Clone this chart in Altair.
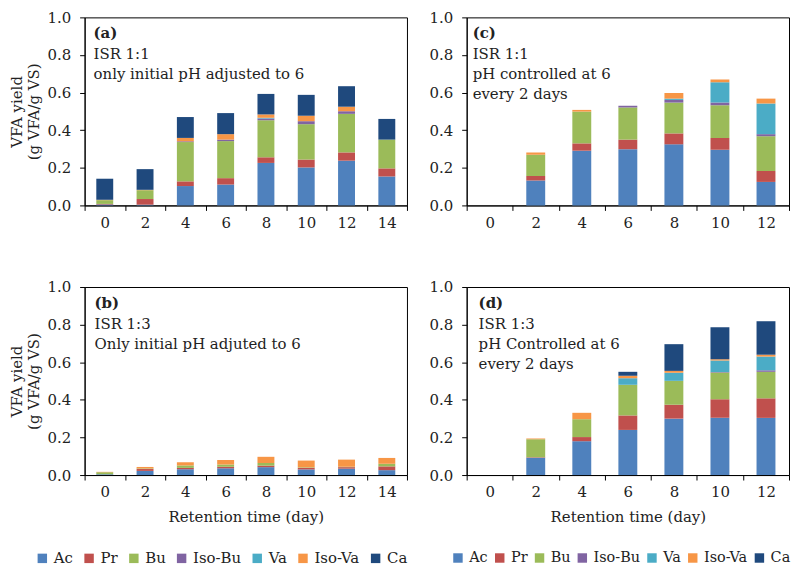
import altair as alt
import pandas as pd

FONT = "DejaVu Serif"

ACIDS = ["Ac", "Pr", "Bu", "Iso-Bu", "Va", "Iso-Va", "Ca"]
COLORS = ["#4f81bd", "#c0504d", "#9bbb59", "#8064a2", "#4bacc6", "#f79646", "#1f497d"]

DAYS_14 = [0, 2, 4, 6, 8, 10, 12, 14]
DAYS_12 = [0, 2, 4, 6, 8, 10, 12]
Y_TICKS = [0.0, 0.2, 0.4, 0.6, 0.8, 1.0]

# (a) ISR 1:1, only initial pH adjusted to 6
A_AC = [0.005, 0.004, 0.103, 0.111, 0.226, 0.202, 0.238, 0.154]
A_PR = [0.003, 0.030, 0.025, 0.034, 0.030, 0.042, 0.044, 0.043]
A_BU = [0.020, 0.047, 0.209, 0.197, 0.197, 0.188, 0.205, 0.153]
A_ISOBU = [0.0, 0.0, 0.004, 0.008, 0.009, 0.016, 0.014, 0.0]
A_VA = [0.0, 0.0, 0.0, 0.0, 0.004, 0.0, 0.0, 0.0]
A_ISOVA = [0.002, 0.002, 0.018, 0.029, 0.018, 0.029, 0.024, 0.0]
A_CA = [0.112, 0.110, 0.111, 0.112, 0.109, 0.111, 0.109, 0.110]

# (c) ISR 1:1, pH controlled at 6 every 2 days
C_AC = [0.0, 0.133, 0.291, 0.299, 0.325, 0.296, 0.125]
C_PR = [0.0, 0.024, 0.039, 0.051, 0.058, 0.063, 0.058]
C_BU = [0.0, 0.113, 0.169, 0.171, 0.164, 0.174, 0.185]
C_ISOBU = [0.0, 0.0, 0.0, 0.009, 0.014, 0.014, 0.011]
C_VA = [0.0, 0.0, 0.0, 0.0, 0.007, 0.108, 0.163]
C_ISOVA = [0.0, 0.012, 0.009, 0.0, 0.030, 0.015, 0.026]
C_CA = [0.0, 0.0, 0.0, 0.0, 0.0, 0.0, 0.0]

# (b) ISR 1:3, only initial pH adjusted to 6
B_AC = [0.004, 0.022, 0.031, 0.036, 0.042, 0.030, 0.034, 0.026]
B_PR = [0.0, 0.010, 0.007, 0.008, 0.008, 0.008, 0.008, 0.020]
B_BU = [0.011, 0.003, 0.013, 0.012, 0.014, 0.003, 0.002, 0.014]
B_ISOBU = [0.0, 0.0, 0.0, 0.0, 0.0, 0.0, 0.0, 0.0]
B_VA = [0.0, 0.0, 0.0, 0.0, 0.0, 0.0, 0.0, 0.0]
B_ISOVA = [0.002, 0.008, 0.017, 0.024, 0.033, 0.036, 0.038, 0.031]
B_CA = [0.0, 0.0, 0.0, 0.0, 0.0, 0.0, 0.0, 0.0]

# (d) ISR 1:3, pH controlled at 6 every 2 days
D_AC = [0.0, 0.092, 0.180, 0.240, 0.300, 0.305, 0.304]
D_PR = [0.0, 0.003, 0.022, 0.077, 0.074, 0.098, 0.104]
D_BU = [0.0, 0.095, 0.095, 0.163, 0.127, 0.142, 0.141]
D_ISOBU = [0.0, 0.0, 0.0, 0.0, 0.0, 0.003, 0.008]
D_VA = [0.0, 0.0, 0.0, 0.035, 0.043, 0.061, 0.073]
D_ISOVA = [0.0, 0.004, 0.034, 0.013, 0.010, 0.007, 0.010]
D_CA = [0.0, 0.0, 0.0, 0.021, 0.142, 0.170, 0.178]

W = 324
H = 189


def frame(days, series):
    rows = []
    for k, (acid, vals) in enumerate(zip(ACIDS, series)):
        for d, v in zip(days, vals):
            rows.append({"day": d, "acid": acid, "value": v, "k": k})
    return pd.DataFrame(rows)


def panel(df, days, barw, tag, body, tx, ytitle, xtitle, legend):
    yax = dict(values=Y_TICKS, format=".1f", labelPadding=9, titlePadding=5,
               titleLineHeight=18)
    yax["title"] = ytitle if ytitle else None
    xax = dict(labelAngle=0, tickBand="extent", labelPadding=5, titlePadding=10)
    xax["title"] = xtitle if xtitle else None
    color_kw = dict(scale=alt.Scale(domain=ACIDS, range=COLORS))
    color_kw["legend"] = legend
    bars = alt.Chart(df).mark_bar(size=barw).encode(
        x=alt.X("day:O", scale=alt.Scale(domain=days, paddingInner=0, paddingOuter=0),
                axis=alt.Axis(**xax)),
        y=alt.Y("value:Q", stack="zero", scale=alt.Scale(domain=[0, 1], nice=False),
                axis=alt.Axis(**yax)),
        color=alt.Color("acid:N", **color_kw),
        order=alt.Order("k:Q", sort="ascending"),
    )
    lbl = alt.Chart(pd.DataFrame({"t": [tag]})).mark_text(
        align="left", baseline="alphabetic", fontWeight="bold", fontSize=15,
        font=FONT, color="#222"
    ).encode(text="t:N", x=alt.value(tx), y=alt.value(21))
    txt = alt.Chart(pd.DataFrame({"t": [body]})).mark_text(
        align="left", baseline="alphabetic", fontSize=15, font=FONT, color="#222",
        lineBreak="\n", lineHeight=20
    ).encode(text="t:N", x=alt.value(tx), y=alt.value(42))
    return alt.layer(bars, lbl, txt).properties(width=W, height=H)


def legend(x, gap, size):
    return alt.Legend(orient="none", legendX=x, legendY=H + 76, direction="horizontal",
                      columns=7, columnPadding=gap, symbolType="square", symbolSize=90,
                      symbolStrokeWidth=0, labelFont=FONT, labelFontSize=size,
                      labelColor="#222", labelOffset=4, padding=0, title=None)


pa = panel(frame(DAYS_14, [A_AC, A_PR, A_BU, A_ISOBU, A_VA, A_ISOVA, A_CA]), DAYS_14, 17,
           "(a)", "ISR 1:1\nonly initial pH adjusted to 6", 9,
           ["VFA yield", "(g VFA/g VS)"], None, None)
pc = panel(frame(DAYS_12, [C_AC, C_PR, C_BU, C_ISOBU, C_VA, C_ISOVA, C_CA]), DAYS_12, 19,
           "(c)", "ISR 1:1\npH controlled at 6\nevery 2 days", 6,
           None, None, None)
pb = panel(frame(DAYS_14, [B_AC, B_PR, B_BU, B_ISOBU, B_VA, B_ISOVA, B_CA]), DAYS_14, 17,
           "(b)", "ISR 1:3\nOnly initial pH adjuted to 6", 10,
           ["VFA yield", "(g VFA/g VS)"], "Retention time (day)", legend(-50, 8, 15))
pd_ = panel(frame(DAYS_12, [D_AC, D_PR, D_BU, D_ISOBU, D_VA, D_ISOVA, D_CA]), DAYS_12, 19,
            "(d)", "ISR 1:3\npH Controlled at 6\nevery 2 days", 12,
            None, "Retention time (day)", legend(-16, 4, 14.5))

chart = alt.concat(pa, pc, pb, pd_, columns=2, spacing={"row": 82, "column": 60},
                   bounds="flush").resolve_scale(x="independent").resolve_legend(
    color="independent"
).properties(
    padding={"left": 0, "right": 0, "top": 0, "bottom": 0}
).configure(font=FONT).configure_view(
    stroke="#000", strokeWidth=1
).configure_axis(
    labelFont=FONT, titleFont=FONT, labelFontSize=15, titleFontSize=15,
    titleFontWeight="normal", labelColor="#222", titleColor="#222",
    domainColor="#000", tickColor="#000", tickSize=5, grid=False
)

chart.save("out.html", embed_options={"renderer": "svg", "actions": False})
